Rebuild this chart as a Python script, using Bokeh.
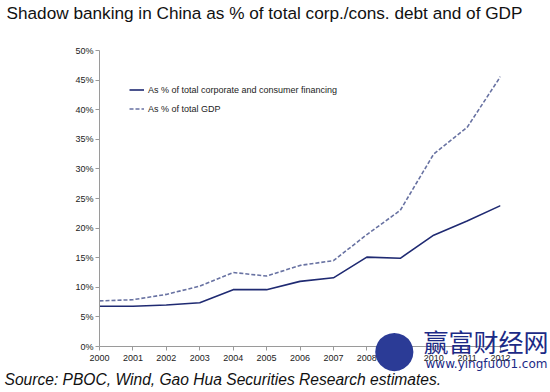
from bokeh.plotting import figure
from bokeh.models import Legend, LegendItem, Range1d, FixedTicker, CustomJSTickFormatter, Title
from bokeh.embed import file_html
from bokeh.resources import INLINE

years = list(range(2000, 2013))
pct_corp_consumer = [6.8, 6.8, 7.0, 7.4, 9.6, 9.6, 11.0, 11.6, 15.1, 14.9, 18.8, 21.2, 23.8]
pct_gdp = [7.7, 7.9, 8.8, 10.2, 12.5, 11.9, 13.7, 14.5, 18.9, 23.0, 32.5, 37.0, 45.6]
y_ticks = [0, 5, 10, 15, 20, 25, 30, 35, 40, 45, 50]
title_text = "Shadow banking in China as % of total corp./cons. debt and of GDP"
source_text = "Source: PBOC, Wind, Gao Hua Securities Research estimates."
legend_labels = ["As % of total corporate and consumer financing", "As % of total GDP"]
watermark_cn = "赢富财经网"
watermark_url = "www.yingfu001.com"

FONT = "Liberation Sans"

p = figure(width=550, height=392, output_backend="svg", toolbar_location=None,
           x_range=Range1d(2000, 2012), y_range=Range1d(0, 50),
           min_border_left=99, min_border_right=50, min_border_top=0, min_border_bottom=0)
p.outline_line_color = None
p.grid.visible = False
p.background_fill_color = "white"

for ax in (p.xaxis, p.yaxis):
    ax.axis_line_color = "#9a9a9a"
    ax.major_tick_line_color = "#9a9a9a"
    ax.minor_tick_line_color = None
    ax.major_tick_out = 4
    ax.major_tick_in = 0
    ax.major_label_text_font = FONT
    ax.major_label_text_font_size = "9px"
    ax.major_label_text_color = "#222222"

p.xaxis.ticker = FixedTicker(ticks=years)
p.xaxis.major_label_standoff = 4
p.yaxis.ticker = FixedTicker(ticks=y_ticks)
p.yaxis.formatter = CustomJSTickFormatter(code="return tick + '%';")
p.yaxis.major_label_standoff = 2

r1 = p.line(years, pct_corp_consumer, line_color="#1f2a72", line_width=1.6)
r2 = p.line(years, pct_gdp, line_color="#6872a2", line_width=1.6, line_dash="4 2")

legend = Legend(items=[LegendItem(label=legend_labels[0], renderers=[r1]),
                       LegendItem(label=legend_labels[1], renderers=[r2])],
                location="top_left", margin=30, padding=0, spacing=0,
                glyph_width=15, glyph_height=19, label_height=19, label_standoff=4,
                label_text_font=FONT, label_text_font_size="9px", label_text_color="#222222",
                border_line_color=None, background_fill_alpha=0)
p.add_layout(legend)

# above: spacer next to the frame, then the title
spacer = Title(text=" ", text_font=FONT, text_font_size="17px", standoff=7)
main_title = Title(text=title_text, text_font=FONT, text_font_size="17.2px", text_font_style="normal",
                   text_color="#111111", align="left", offset=-93, standoff=0)
p.above = [spacer, main_title]

# below: watermark (zero-size), axis, logo + url (zero-size), source
xaxis = p.below[0]
wm_cn = Title(text=watermark_cn, text_font="Noto Sans CJK SC", text_font_size="25px",
              text_font_style="normal", text_color="#1c2a86", align="left", offset=324,
              vertical_align="top", standoff=-47)
wm_ball = Title(text="●", text_font="DejaVu Sans", text_font_size="50px",
                text_font_style="normal", text_color="#2b3b96", align="left", offset=273,
                vertical_align="top", standoff=-89)
wm_url = Title(text=watermark_url, text_font="DejaVu Sans", text_font_size="12px",
               text_font_style="normal", text_color="#1c2a86", align="left", offset=326,
               vertical_align="middle", standoff=-20)
source = Title(text=source_text, text_font=FONT, text_font_size="15.6px", text_font_style="italic",
               text_color="#111111", align="left", offset=-95, standoff=10)
p.below = [wm_cn, xaxis, wm_ball, wm_url, source]

open("out.html", "w").write(file_html(p, INLINE))
